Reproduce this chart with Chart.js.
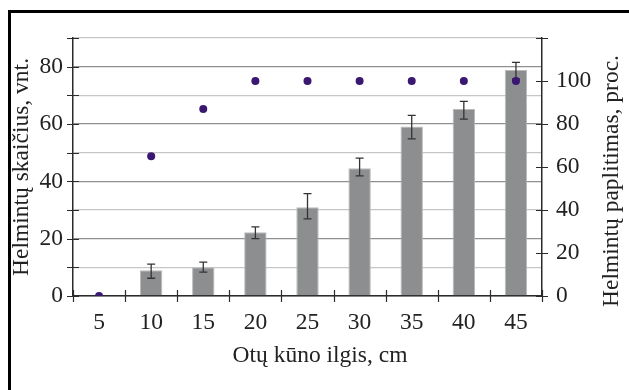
<!DOCTYPE html>
<html>
<head>
<meta charset="utf-8">
<script src="https://cdn.jsdelivr.net/npm/chart.js@4"></script>
<style>
  body { margin: 0; background: #fff; }
  #wrap { position: relative; width: 629px; height: 390px; overflow: hidden; }
  #frame { position: absolute; left: 8px; top: 10px; width: 700px; height: 500px;
           border-left: 3px solid #000; border-top: 3px solid #000; }
</style>
</head>
<body>
<div id="wrap">
  <div id="frame"></div>
  <canvas id="myChart" width="629" height="390"></canvas>
</div>
<script>
const lengths = ["5", "10", "15", "20", "25", "30", "35", "40", "45"];
const helminthCount = [0, 9, 10, 22.2, 31, 44.6, 59.1, 65.2, 78.8];
const countErrLow = [null, 6.2, 8.3, 20, 26.9, 41.9, 54.8, 61.7, 75.7];
const countErrHigh = [null, 11.1, 11.8, 24.1, 35.7, 48.1, 63, 67.9, 81.5];
const prevalence = [0, 65, 87, 100, 100, 100, 100, 100, 100];
const leftLabels = [0, 20, 40, 60, 80];
const rightLabels = [0, 20, 40, 60, 80, 100];

const colors = {
  bar: "#8c8e90",
  barEdge: "#b9babb",
  dot: "#3a1872",
  axis: "#2b2b2b",
  text: "#222",
};
const serif = "'Liberation Serif', 'Times New Roman', serif";
const fontSize = 23.5;

// error bars on top of the bars
const errorBars = {
  id: "errorBars",
  afterDatasetDraw(chart, args) {
    if (args.index !== 1) return;
    const { ctx } = chart;
    const x = chart.scales.x, y = chart.scales.y;
    ctx.save();
    ctx.strokeStyle = "#333";
    ctx.lineWidth = 1.3;
    lengths.forEach((c, i) => {
      if (countErrLow[i] == null) return;
      const px = x.getPixelForValue(i);
      const y1 = y.getPixelForValue(countErrLow[i]);
      const y2 = y.getPixelForValue(countErrHigh[i]);
      ctx.beginPath();
      ctx.moveTo(px, y1); ctx.lineTo(px, y2);
      ctx.moveTo(px - 4, y1); ctx.lineTo(px + 4, y1);
      ctx.moveTo(px - 4, y2); ctx.lineTo(px + 4, y2);
      ctx.stroke();
    });
    ctx.restore();
  },
};

// tick marks crossing the axes, right and bottom titles
const axisExtras = {
  id: "axisExtras",
  afterDraw(chart) {
    const { ctx, chartArea } = chart;
    const x = chart.scales.x, y = chart.scales.y, y1 = chart.scales.y1;
    ctx.save();
    ctx.strokeStyle = colors.axis;
    ctx.lineWidth = 1.2;
    ctx.beginPath();
    for (let v = 0; v <= 90; v += 10) {
      const py = Math.round(y.getPixelForValue(v)) + 0.5;
      ctx.moveTo(chartArea.left - 6, py); ctx.lineTo(chartArea.left + 6, py);
    }
    for (let v = 0; v <= 120; v += 20) {
      const py = Math.round(y1.getPixelForValue(v)) + 0.5;
      ctx.moveTo(chartArea.right - 6, py); ctx.lineTo(chartArea.right + 6, py);
    }
    for (let i = 0; i <= lengths.length; i++) {
      const px = Math.round(x.getPixelForValue(i - 0.5)) + 0.5;
      ctx.moveTo(px, chartArea.bottom - 6); ctx.lineTo(px, chartArea.bottom + 6);
    }
    ctx.stroke();

    ctx.fillStyle = colors.text;
    ctx.font = fontSize + "px " + serif;
    ctx.textAlign = "center";
    ctx.textBaseline = "middle";
    ctx.fillText("Otų kūno ilgis, cm", 320, 356);
    ctx.translate(612, 181);
    ctx.rotate(-Math.PI / 2);
    ctx.fillText("Helmintų paplitimas, proc.", 0, 0);
    ctx.restore();
  },
};

const ctx = document.getElementById("myChart");
new Chart(ctx, {
  data: {
    labels: lengths,
    datasets: [
      {
        type: "line",
        data: prevalence,
        yAxisID: "y1",
        showLine: false,
        pointRadius: 4,
        pointBackgroundColor: colors.dot,
        pointBorderColor: colors.dot,
        pointBorderWidth: 0,
      },
      {
        type: "bar",
        data: helminthCount,
        yAxisID: "y",
        backgroundColor: colors.bar,
        borderColor: colors.barEdge,
        borderWidth: 1,
        barPercentage: 0.43,
        categoryPercentage: 1,
      },
    ],
  },
  plugins: [errorBars, axisExtras],
  options: {
    responsive: false,
    animation: false,
    layout: { padding: { top: 38, left: 0, right: 0, bottom: 0 } },
    plugins: { legend: { display: false }, tooltip: { enabled: false } },
    scales: {
      x: {
        offset: true,
        grid: { display: true, drawOnChartArea: false, drawTicks: false },
        border: { color: colors.axis, width: 1.5 },
        ticks: { color: colors.text, font: { family: serif, size: fontSize }, padding: 13, maxRotation: 0 },
        afterFit: (s) => { s.height = 94; },
      },
      y: {
        position: "left",
        min: 0,
        max: 90,
        ticks: {
          stepSize: 10,
          autoSkip: false,
          color: colors.text,
          font: { family: serif, size: fontSize },
          padding: 10,
          callback: (v) => (leftLabels.includes(v) ? v : ""),
        },
        grid: {
          drawTicks: false,
          color: (c) => (c.tick.value % 20 === 0 ? "#8f8f8f" : "#c6c6c6"),
          lineWidth: 1.3,
        },
        border: { color: colors.axis, width: 1.5 },
        title: {
          display: true,
          text: "Helmintų skaičius, vnt.",
          color: colors.text,
          font: { family: serif, size: fontSize },
          padding: { top: 8, bottom: 0 },
        },
        afterFit: (s) => { s.width = 73; },
      },
      y1: {
        position: "right",
        min: 0,
        max: 120,
        ticks: {
          stepSize: 20,
          autoSkip: false,
          color: colors.text,
          font: { family: serif, size: fontSize },
          padding: 14,
          callback: (v) => (rightLabels.includes(v) ? v : ""),
        },
        grid: { drawOnChartArea: false, drawTicks: false },
        border: { color: colors.axis, width: 1.5 },
        afterFit: (s) => { s.width = 87; },
      },
    },
  },
});
</script>
</body>
</html>
